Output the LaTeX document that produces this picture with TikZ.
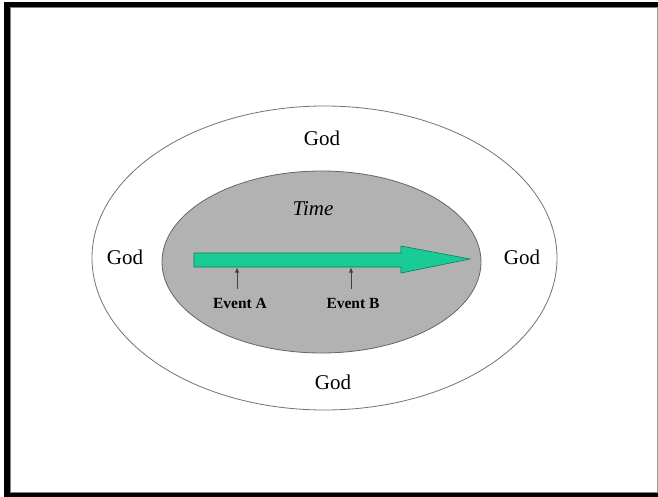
\documentclass[tikz,border=0pt]{standalone}
\usepackage{fontspec}
\setmainfont{Liberation Serif}
\usetikzlibrary{arrows.meta}
\definecolor{timegray}{RGB}{178,178,178}
\definecolor{arrowteal}{RGB}{25,204,150}
\definecolor{arrowedge}{RGB}{20,120,90}
\begin{document}
\begin{tikzpicture}[x=1pt,y=-1pt,
  godlabel/.style={font=\fontsize{21}{24}\selectfont},
  eventlabel/.style={font=\bfseries\fontsize{15.5}{18}\selectfont},
  marker/.style={draw=black!75,line width=0.8pt,-{Latex[length=5pt,width=4.5pt]}}]
\useasboundingbox (0,0) rectangle (658,497);
\fill[white] (0,0) rectangle (658,497);
% frame
\fill[black] (4,2) rectangle (658,7);
\fill[black] (4,2) rectangle (10,497);
\fill[black] (4,493) rectangle (658,497);
\draw[black!50,line width=0.8pt] (10.5,7.5) -- (657.5,7.5);
\draw[black!50,line width=0.8pt] (10.5,7.5) -- (10.5,493);
\draw[black!50,line width=0.8pt] (10.5,492.5) -- (658,492.5);
\draw[black!40,line width=0.6pt] (657,7) -- (657,493);
% ellipses
\draw[black!55,line width=0.8pt] (324.5,258) ellipse [x radius=232.5pt, y radius=152pt];
\fill[timegray] (321.5,262) ellipse [x radius=159.5pt, y radius=91pt];
\draw[black!60,line width=0.8pt] (321.5,262) ellipse [x radius=159.5pt, y radius=91pt];
% big arrow
\coordinate (s1) at (194,253);
\coordinate (s2) at (401,253);
\coordinate (h1) at (401,246);
\coordinate (tip) at (470,259);
\coordinate (h2) at (401,273);
\coordinate (s3) at (401,267);
\coordinate (s4) at (194,267);
\filldraw[fill=arrowteal,draw=arrowedge,line width=0.6pt,line join=miter]
  (s1) -- (s2) -- (h1) -- (tip) -- (h2) -- (s3) -- (s4) -- cycle;
% labels
\node[godlabel] (godtop) at (322,138) {God};
\node[godlabel] (godleft) at (125,257) {God};
\node[godlabel] (godright) at (522,257) {God};
\node[godlabel] (godbottom) at (333,382) {God};
\node[font=\itshape\fontsize{21}{24}\selectfont] (time) at (313,209) {Time};
\node[eventlabel] (evA) at (240,303) {Event A};
\node[eventlabel] (evB) at (353,303) {Event B};
\coordinate (aTail) at (237,289);
\coordinate (aHead) at (237,267.5);
\coordinate (bTail) at (351,289);
\coordinate (bHead) at (351,267.5);
\draw[marker] (aTail) -- (aHead);
\draw[marker] (bTail) -- (bHead);
\end{tikzpicture}
\end{document}
